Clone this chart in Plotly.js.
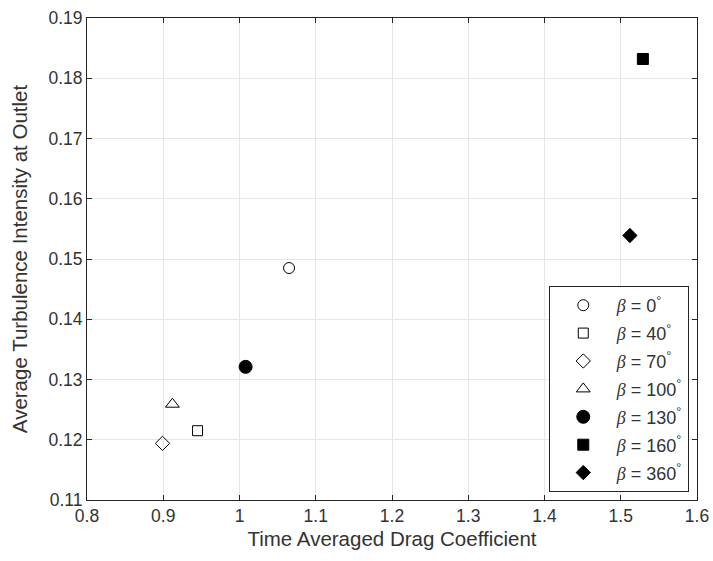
<!DOCTYPE html>
<html><head><meta charset="utf-8">
<script src="https://cdn.plot.ly/plotly-3.0.1.min.js"></script>
<style>html,body{margin:0;padding:0;background:#fff}#chart{width:713px;height:561px}</style>
</head><body><div id="chart"></div>
<script>
var betaLabels = ["0", "40", "70", "100", "130", "160", "360"];
var dragCoeff = [1.065, 0.945, 0.899, 0.912, 1.008, 1.529, 1.512];
var turbIntensity = [0.1485, 0.1215, 0.1194, 0.1259, 0.1321, 0.1832, 0.1539];
var symbols = ["circle-open", "square-open", "diamond-open", "triangle-up-open", "circle", "square", "diamond"];
var sizes = [11, 10, 11, 12, 13, 11, 11];
var xTicks = [0.8, 0.9, 1.0, 1.1, 1.2, 1.3, 1.4, 1.5, 1.6];
var xTickText = ["0.8", "0.9", "1", "1.1", "1.2", "1.3", "1.4", "1.5", "1.6"];
var yTicks = [0.11, 0.12, 0.13, 0.14, 0.15, 0.16, 0.17, 0.18, 0.19];

var traces = betaLabels.map(function(b, i){
  return {
    x: [dragCoeff[i]], y: [turbIntensity[i]],
    type: "scatter", mode: "markers",
    name: "<span style=\"font-family:'Liberation Serif';font-style:italic\">β</span> = " + b + "<sup>°</sup>",
    legendgroup: "g" + i,
    marker: {symbol: symbols[i], size: sizes[i], color: "#000", line: {color: "#000", width: 1}}
  };
});

var axisCommon = {
  showline: true, linecolor: "#262626", linewidth: 1, mirror: "ticks",
  ticks: "inside", ticklen: 5, tickcolor: "#262626",
  showgrid: true, gridcolor: "#e6e6e6", gridwidth: 1, zeroline: false,
  tickfont: {family: "Liberation Sans, Arial, sans-serif", size: 17.5, color: "#333333"}
};

var layout = {
  width: 713, height: 561,
  margin: {l: 87, r: 16, t: 18, b: 61},
  paper_bgcolor: "#fff", plot_bgcolor: "#fff",
  font: {family: "Liberation Sans, Arial, sans-serif", size: 18, color: "#333333"},
  xaxis: Object.assign({}, axisCommon, {
    range: [0.8, 1.6], tickvals: xTicks, ticktext: xTickText,
    title: {text: "Time Averaged Drag Coefficient", font: {size: 20.5, color: "#333333"}, standoff: 6}
  }),
  yaxis: Object.assign({}, axisCommon, {
    range: [0.11, 0.19], tickvals: yTicks, tickformat: ".2f",
    title: {text: "Average Turbulence Intensity at Outlet", font: {size: 20.5, color: "#333333"}, standoff: 15}
  }),
  showlegend: true,
  legend: {
    x: 0.757, y: 0.444, xanchor: "left", yanchor: "top",
    bgcolor: "#fff", bordercolor: "#262626", borderwidth: 1,
    font: {size: 18, color: "#333333"},
    tracegroupgap: 1.5, itemwidth: 57
  }
};

Plotly.newPlot("chart", traces, layout, {displayModeBar: false, staticPlot: true});
</script></body></html>
